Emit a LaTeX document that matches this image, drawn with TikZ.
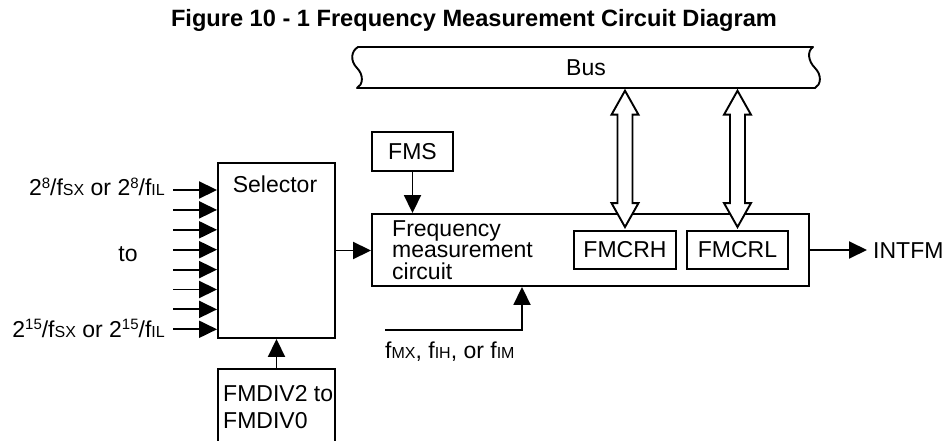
\documentclass[tikz,border=0pt]{standalone}
\usepackage{fontspec}
\setmainfont{Liberation Sans}
\usetikzlibrary{arrows.meta,calc}
\newcommand\smc[1]{{\fontsize{16}{16}\selectfont #1}}
\newcommand\sps[1]{\raisebox{7.5pt}{\fontsize{15}{15}\selectfont #1}}
\newcommand\dblarr[1]{%
  \draw[dbl] let \p1=($(#1.north |- bus.south)+(0,2)$), \p2=($(#1.north)+(0,-3)$) in
    (\x1,\y1) -- (\x1+13.5pt,\y1-24pt) -- (\x1+7.5pt,\y1-24pt) -- (\x1+7.5pt,\y2+24pt)
    -- (\x1+13.5pt,\y2+24pt) -- (\x1,\y2) -- (\x1-13.5pt,\y2+24pt) -- (\x1-7.5pt,\y2+24pt)
    -- (\x1-7.5pt,\y1-24pt) -- (\x1-13.5pt,\y1-24pt) -- cycle;}
\begin{document}
\begin{tikzpicture}[x=1pt,y=-1pt,
  every node/.style={font=\fontsize{23}{26}\selectfont, inner sep=0pt},
  blk/.style={draw, line width=1.9pt},
  wire/.style={line width=1.9pt},
  arr/.style={wire, -{Triangle[length=18pt,width=17pt]}},
  dbl/.style={line width=1.9pt, fill=white, line join=miter},
]
\useasboundingbox (0,0) rectangle (948,441);

% title
\node[anchor=base, font=\fontsize{23.6}{28}\bfseries\selectfont] (title) at (474,27)
  {Figure 10 - 1 Frequency Measurement Circuit Diagram};

% bus
\node[minimum width=460pt, minimum height=41pt] (bus) at (586,68) {Bus};
\draw[wire, line join=round] (358,47) -- (813,47)
  .. controls (807,51) and (808,61) .. (815,68)
  .. controls (822,75) and (821,85) .. (815,88) -- (357,88)
  .. controls (363,85) and (364,75) .. (357,68)
  .. controls (350,61) and (351,51) .. (358,47) -- cycle;

% blocks
\node[blk, minimum width=117pt, minimum height=175pt] (sel) at (276.5,250.5) {};
\node[anchor=base] (seltext) at (275,193) {Selector};
\node[blk, minimum width=81pt, minimum height=39pt] (fms) at (412.5,151.5) {FMS};
\node[blk, minimum width=437pt, minimum height=72pt] (fmc) at (590.5,250) {};
\node[anchor=base west, align=left, font=\fontsize{23}{21.5}\selectfont] (fmctext) at (392,279)
  {Frequency\\measurement\\circuit};
\node[blk, minimum width=102pt, minimum height=38pt] (fmcrh) at (625,250) {FMCRH};
\node[blk, minimum width=101pt, minimum height=38pt] (fmcrl) at (737.5,250) {FMCRL};

\node[minimum width=117pt, minimum height=76pt] (fmdiv) at (276.5,407) {};
\draw[wire] (fmdiv.south west) -- (fmdiv.north west) -- (fmdiv.north east) -- (fmdiv.south east);
\node[anchor=base west, align=left, font=\fontsize{23}{27}\selectfont] (fmdivtext) at (223,428)
  {FMDIV2 to\\FMDIV0};

% inputs
\foreach \i/\y in {1/190,2/209.9,3/229.8,4/249.7,5/269.6,6/289.5,7/309.4,8/329.3} {
  \coordinate (in\i) at (173,\y);
  \draw[arr] (in\i) -- (in\i -| sel.west);
}
\node[anchor=base east] (lab1) at (165,196) {2\sps{8}/f\smc{SX} or 2\sps{8}/f\smc{IL}};
\node[anchor=base east] (lab8) at (165,337) {2\sps{15}/f\smc{SX} or 2\sps{15}/f\smc{IL}};
\node[anchor=base] (labto) at (128,261) {to};

% connectors
\draw[arr] (sel.east) -- (sel.east -| fmc.west);
\draw[arr] (fms.south) -- (fms.south |- fmc.north);
\draw[arr] (fmdiv.north) -- (fmdiv.north |- sel.south);

\coordinate (fin) at (385,330);
\coordinate (fmcin) at ([xshift=-68.5pt]fmc.south);
\draw[arr] (fin) -| (fmcin);
\node[anchor=base west] (fintext) at (385,358) {f\smc{MX}, f\smc{IH}, or f\smc{IM}};

\node[anchor=base west] (intfm) at (873,258) {INTFM};
\draw[arr, shorten >=6pt] (fmc.east) -- (fmc.east -| intfm.west);

% double arrows
\dblarr{fmcrh}
\dblarr{fmcrl}
\end{tikzpicture}
\end{document}
